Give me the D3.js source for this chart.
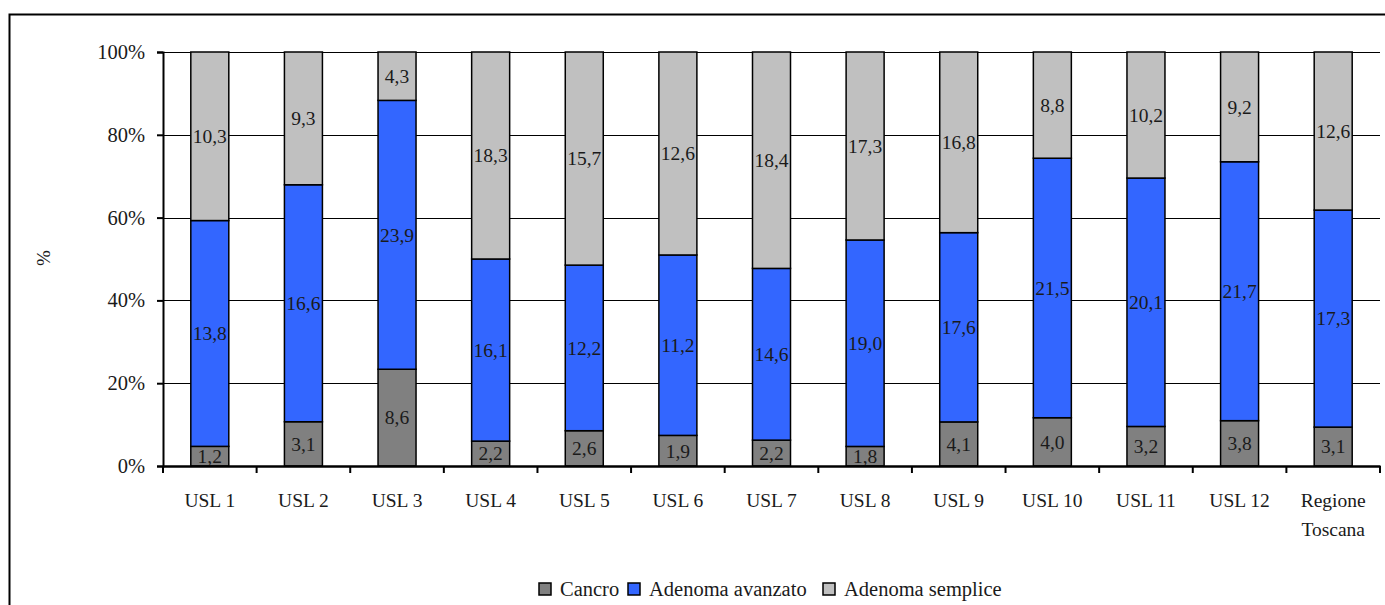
<!DOCTYPE html>
<html>
<head>
<meta charset="utf-8">
<script src="https://cdn.jsdelivr.net/npm/d3@7"></script>
<style>
  body { margin: 0; background: #fff; }
</style>
</head>
<body>
<div id="chart"></div>
<script>
var categories = ['USL 1', 'USL 2', 'USL 3', 'USL 4', 'USL 5', 'USL 6', 'USL 7',
  'USL 8', 'USL 9', 'USL 10', 'USL 11', 'USL 12', 'Regione Toscana'];
var seriesNames = ['Cancro', 'Adenoma avanzato', 'Adenoma semplice'];
var cancro = [1.2, 3.1, 8.6, 2.2, 2.6, 1.9, 2.2, 1.8, 4.1, 4.0, 3.2, 3.8, 3.1];
var adenomaAvanzato = [13.8, 16.6, 23.9, 16.1, 12.2, 11.2, 14.6, 19.0, 17.6, 21.5, 20.1, 21.7, 17.3];
var adenomaSemplice = [10.3, 9.3, 4.3, 18.3, 15.7, 12.6, 18.4, 17.3, 16.8, 8.8, 10.2, 9.2, 12.6];
var colors = ['#808080', '#3366ff', '#c0c0c0'];

var FONT = 'Liberation Serif';
var W = 1385, H = 605;
var margin = {top: 52, right: 5, bottom: 139, left: 163};
var width = W - margin.left - margin.right;
var height = H - margin.top - margin.bottom;

var rows = categories.map(function(c, i) {
  return {cat: c, 'Cancro': cancro[i], 'Adenoma avanzato': adenomaAvanzato[i], 'Adenoma semplice': adenomaSemplice[i]};
});

var stack = d3.stack().keys(seriesNames).offset(d3.stackOffsetExpand);
var series = stack(rows);

var x = d3.scaleBand().domain(categories).range([0, width]).paddingInner(0).paddingOuter(0);
var y = d3.scaleLinear().domain([0, 1]).range([height, 0]);
var barW = 38;

var root = d3.select('#chart').append('svg')
  .attr('width', W)
  .attr('height', H);

// outer frame
root.append('rect')
  .attr('x', 9.5).attr('y', 14.5)
  .attr('width', W + 20).attr('height', H + 20)
  .attr('fill', 'none').attr('stroke', '#000').attr('stroke-width', 2);

var svg = root.append('g')
  .attr('transform', 'translate(' + margin.left + ',' + margin.top + ')');

// gridlines
svg.append('g')
  .selectAll('line')
  .data(y.ticks(5))
  .enter().append('line')
  .attr('x1', 0).attr('x2', width)
  .attr('y1', function(d) { return Math.round(y(d)) + 0.5; })
  .attr('y2', function(d) { return Math.round(y(d)) + 0.5; })
  .attr('stroke', '#000').attr('stroke-width', 1.2);

// bars
var layer = svg.selectAll('.layer')
  .data(series)
  .enter().append('g')
  .attr('class', 'layer')
  .attr('fill', function(d, i) { return colors[i]; });

layer.selectAll('rect')
  .data(function(d) { return d; })
  .enter().append('rect')
  .attr('x', function(d) { return x(d.data.cat) + (x.bandwidth() - barW) / 2; })
  .attr('width', barW)
  .attr('y', function(d) { return y(d[1]); })
  .attr('height', function(d) { return y(d[0]) - y(d[1]); })
  .attr('stroke', '#000').attr('stroke-width', 1.5);

// value labels
series.forEach(function(s) {
  svg.append('g').selectAll('text')
    .data(s)
    .enter().append('text')
    .attr('x', function(d) { return x(d.data.cat) + x.bandwidth() / 2; })
    .attr('y', function(d) { return (y(d[0]) + y(d[1])) / 2; })
    .attr('dy', '0.35em')
    .attr('text-anchor', 'middle')
    .attr('fill', '#1a1a1a')
    .style('font-family', FONT)
    .style('font-size', '19.5px')
    .text(function(d) { return d3.format('.1f')(d.data[s.key]).replace('.', ','); });
});

// y axis
var yAxis = d3.axisLeft(y).ticks(5).tickFormat(d3.format('.0%')).tickSize(6).tickPadding(12);
svg.append('g')
  .attr('class', 'y axis')
  .call(yAxis)
  .call(function(g) {
    g.select('.domain').attr('stroke-width', 2);
    g.selectAll('.tick line').attr('stroke-width', 2);
    g.selectAll('text').style('font-size', '20.5px').style('font-family', FONT).attr('fill', '#1a1a1a');
  });

// x axis
var xAxis = d3.axisBottom(x).tickSize(0).tickPadding(27);
var xg = svg.append('g')
  .attr('class', 'x axis')
  .attr('transform', 'translate(0,' + height + ')')
  .call(xAxis);
xg.select('.domain').attr('stroke-width', 2.5);
xg.selectAll('text').style('font-size', '19.5px').style('font-family', FONT).attr('fill', '#1a1a1a');
xg.selectAll('.tick text').each(function(d) {
  var t = d3.select(this);
  var words = d.split(' ');
  if (d === 'Regione Toscana') {
    t.text(null);
    t.append('tspan').attr('x', 0).attr('dy', '0.71em').text(words[0]);
    t.append('tspan').attr('x', 0).attr('dy', '1.52em').text(words.slice(1).join(' '));
    t.attr('dy', null);
  }
});
xg.append('g').selectAll('line')
  .data(d3.range(categories.length + 1))
  .enter().append('line')
  .attr('x1', function(i) { return i * x.bandwidth(); })
  .attr('x2', function(i) { return i * x.bandwidth(); })
  .attr('y1', 0).attr('y2', 7)
  .attr('stroke', '#000').attr('stroke-width', 2);

// y label
root.append('text')
  .attr('transform', 'translate(50,258) rotate(-90)')
  .attr('text-anchor', 'middle')
  .attr('fill', '#1a1a1a')
  .style('font-family', FONT)
  .style('font-size', '19px')
  .text('%');

// legend
var legendX = [539, 628, 823];
var legend = root.append('g').selectAll('g')
  .data(seriesNames)
  .enter().append('g')
  .attr('transform', function(d, i) { return 'translate(' + legendX[i] + ',583)'; });
legend.append('rect')
  .attr('width', 12).attr('height', 12)
  .attr('fill', function(d, i) { return colors[i]; })
  .attr('stroke', '#000').attr('stroke-width', 1.5);
legend.append('text')
  .attr('x', 21).attr('y', 13)
  .attr('fill', '#1a1a1a')
  .style('font-family', FONT)
  .style('font-size', '20.5px')
  .text(function(d) { return d; });
</script>
</body>
</html>
